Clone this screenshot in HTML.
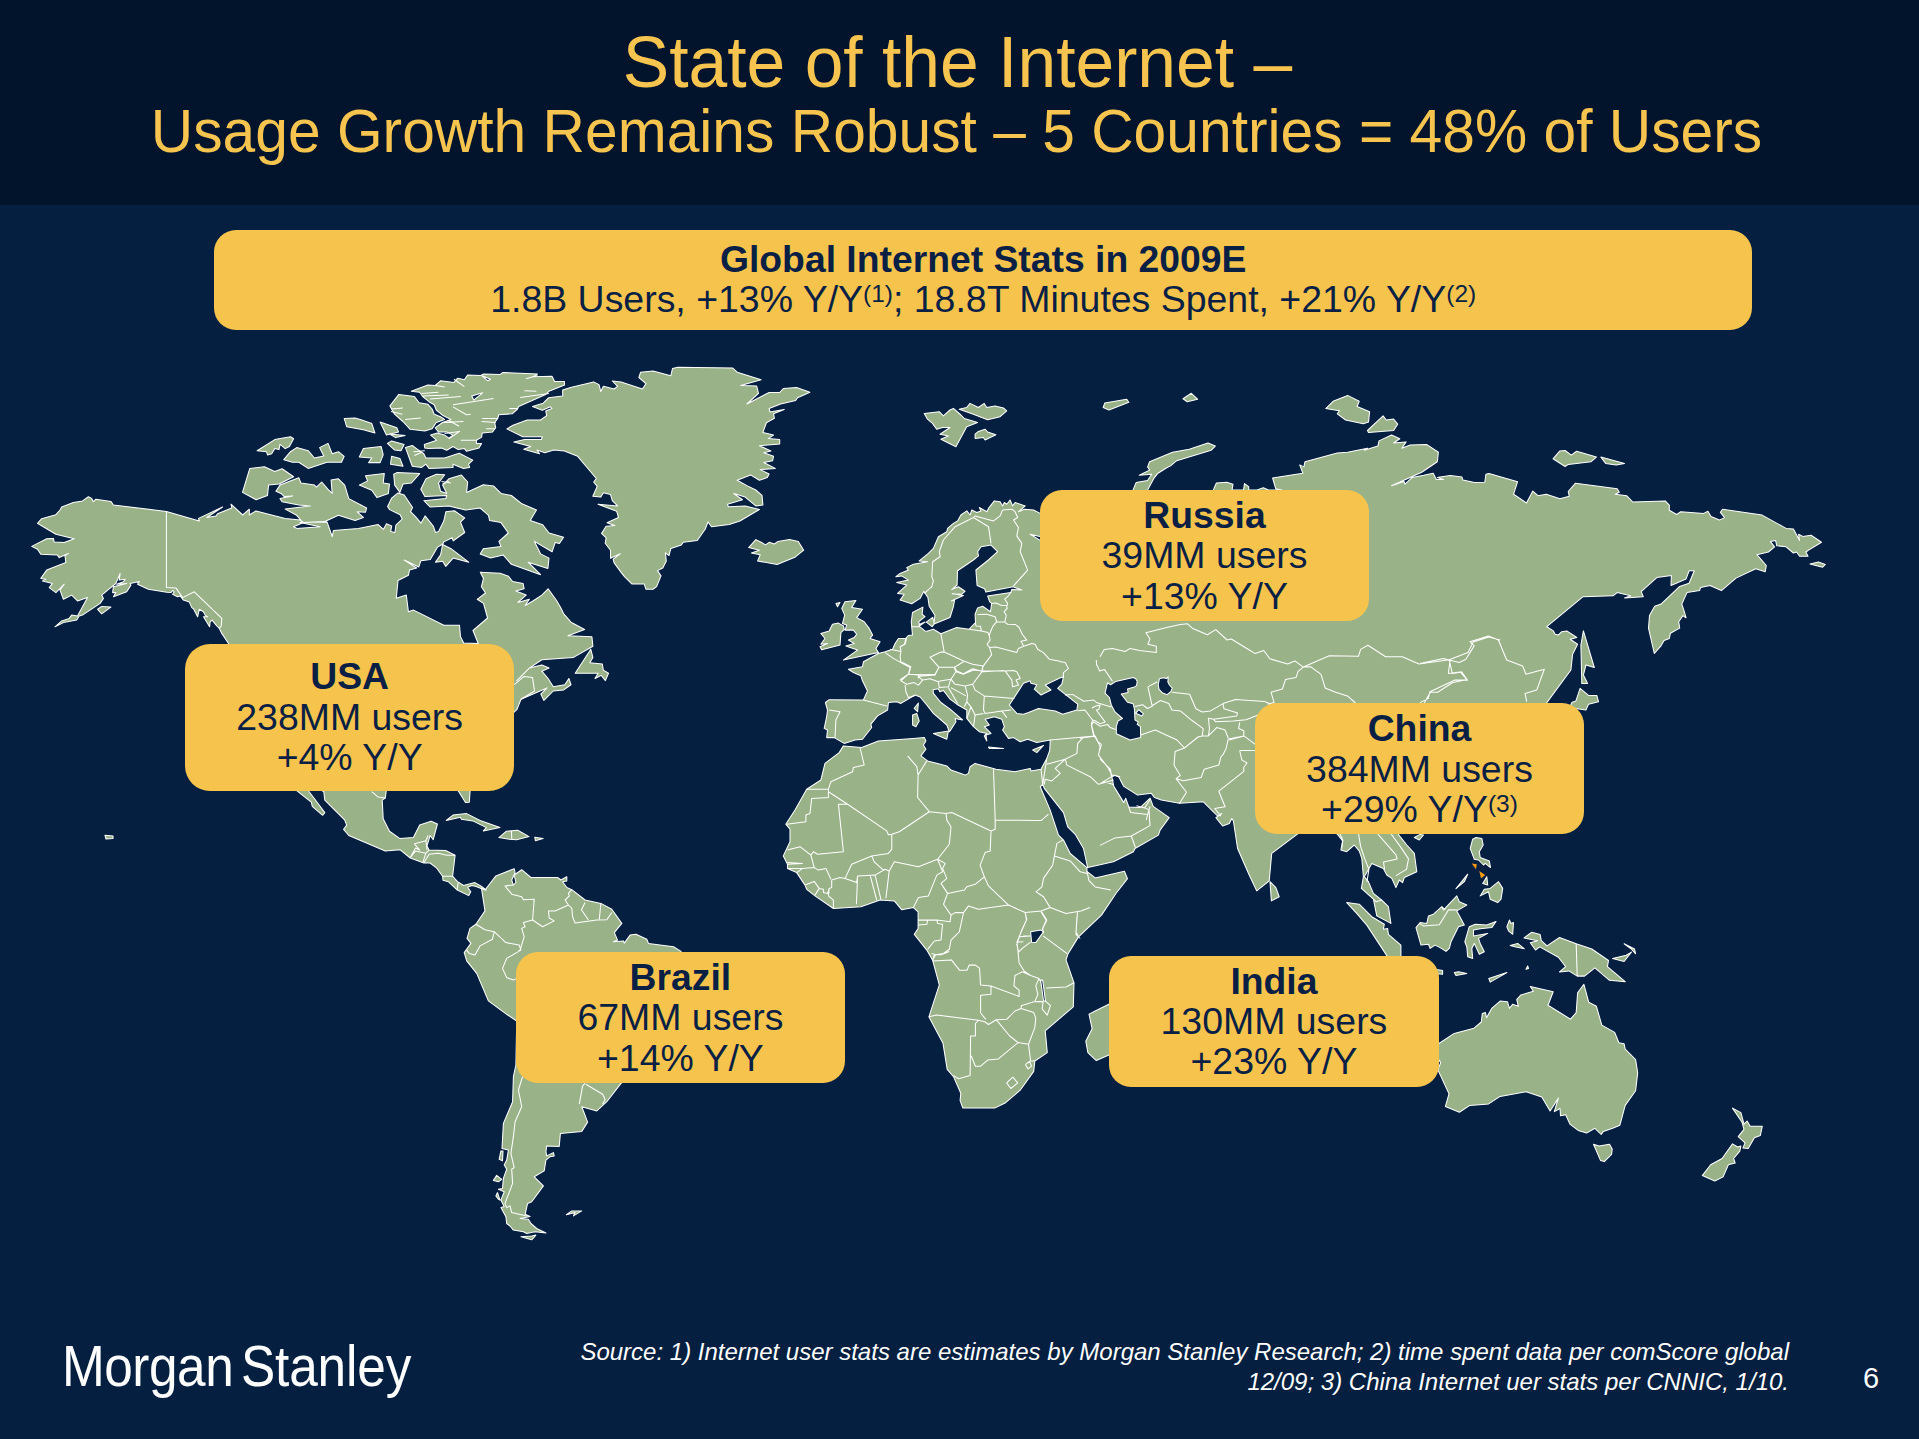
<!DOCTYPE html>
<html>
<head>
<meta charset="utf-8">
<title>State of the Internet</title>
<style>
html,body{margin:0;padding:0;}
body{width:1919px;height:1439px;overflow:hidden;background:#051f41;font-family:"Liberation Sans",sans-serif;position:relative;}
#hdr{position:absolute;left:0;top:0;width:1919px;height:205px;background:#01142b;}
.t1{position:absolute;left:0;width:1919px;text-align:center;color:#f6c44f;white-space:nowrap;}
#t1a{top:25px;font-size:69.6px;line-height:76px;left:-2px;transform-origin:50% 61px;transform:scaleY(1.045);}
#t1b{top:100.2px;font-size:58.75px;line-height:64px;left:-3px;transform-origin:50% 52.4px;transform:scaleY(1.03);}
.box{position:absolute;background:#f6c44d;border-radius:22px;color:#0a1f44;text-align:center;white-space:nowrap;}
.box b{display:block;font-size:37.3px;line-height:40.4px;}
.box span{display:block;font-size:37.45px;line-height:40.4px;}
.box sup{font-size:24.5px;vertical-align:baseline;position:relative;top:-10.2px;line-height:0;}
#gbox{left:214.2px;top:230px;width:1538px;height:99.5px;border-radius:22px;}
#gbox b{padding-top:9px;}
.cb{width:329px;height:131px;}
.cb b{padding-top:5px;}
#map{position:absolute;left:0;top:0;}
#logo{position:absolute;left:62.2px;top:1333.5px;color:#fff;font-size:57px;line-height:64px;white-space:nowrap;transform-origin:0 0;transform:scaleX(0.90);letter-spacing:-0.5px;}
#src{position:absolute;right:130px;top:1337px;width:1300px;text-align:right;color:#fff;font-style:italic;font-size:24px;line-height:29.5px;white-space:nowrap;}
#pg{position:absolute;left:1863px;top:1362.6px;color:#fff;font-size:29px;line-height:30px;}
</style>
</head>
<body>
<div id="hdr"></div>
<div class="t1" id="t1a">State of the Internet –</div>
<div class="t1" id="t1b">Usage Growth Remains Robust – 5 Countries = 48% of Users</div>

<svg id="map" width="1919" height="1439" viewBox="0 0 1919 1439">
<g id="land" fill="#99b288" stroke="#ffffff" stroke-width="1.05" stroke-linejoin="round">
<path d="M166.4,511.4 113.4,505 110.9,501.4 95.9,499.2 93.4,501.7 91.7,498.4 88.4,496.7 82.5,500.9 73.4,502.5 61.7,507 60,510 55.9,514.7 41.7,518.7 37.5,523.4 43.3,526.7 55.9,534.2 74.2,538.7 64.2,542.6 54.2,542.1 53.4,538.4 46.7,538.7 31.7,546.4 37.5,549.2 40.8,554.2 57.5,555.1 59.2,557.6 68.4,553.4 65,555.9 65.9,562.6 46.7,570.1 40.8,578.4 45.9,579.2 42.5,580.9 52.5,583.4 49.2,587.6 55.9,592.6 64.2,584.2 60,590.1 63.4,599.3 71.7,595.1 77.5,600.9 87.5,597.6 77.5,615.9 71.7,615.1 69.2,618.4 61.7,620.9 55,626.8 63.4,622.6 76.7,620.1 79.2,615.9 82.5,615.1 100.1,603.4 103.4,598.4 101.7,595.1 115.9,583.4 120.1,573.4 119.2,580.1 125.1,579.2 123.4,581.7 116.7,584.2 126.7,583.4 113.4,586.7 112.6,592.6 115.9,592.6 113.4,596.8 126.7,591.8 130.9,585.1 130.1,583.4 139.2,581.4 137.6,584.2 148.4,589.2 166.8,592.3 170.9,592.6 172.9,590.4 174.3,591.8 172.6,594.3 177.6,596.8 180.1,595.9 182.1,598.4 183.4,600.1 189.3,602.1 191.8,607.6 193.5,608.8 197.6,616.8 199.3,609.3 203.5,611.8 205.1,615.1 207.6,616.8 203.5,616.8 209.6,626.8 210.1,621.8 212.1,620.1 216.8,625.9 219.3,628.4 221.8,633.4 228.5,643.5 292.5,762.5 311.3,783.4 323.8,791.7 324.8,800.1 344.6,819.9 346.7,825.1 343.6,829.3 348.8,835.5 385.3,851.1 399.9,849.7 410.3,858 423.8,863 430.1,863 436.4,867.8 442.6,876.2 443,880.3 448.5,881.8 456.8,889.7 468.7,895.6 470.8,891.8 467.6,887.2 471.8,885.5 476,886.6 481.8,888.7 486.4,890.1 481.2,886.2 474.9,882.6 463.5,885.5 457.2,881.4 452.6,876.2 455.1,855.3 445.7,850.5 429.1,850.1 427,845.9 430.1,835.5 433.2,839.7 437.4,824 431.1,821.3 419.7,825.1 413.4,837.6 399.9,838.6 389.5,831.3 383.2,818.8 382.2,800.1 385.3,798 386.3,790.7 405.1,779.2 458.2,790.7 465.5,802.6 469.3,802.2 470.1,790.7 467.6,762.5 514.3,711.8 516.8,709.7 521,699.3 537.7,692 547,687.9 540.8,694.1 543.9,700.4 553.3,691 563.7,689.9 571,684.7 568.9,678.5 564.8,684.7 553.3,686.8 548.1,678.5 541.8,671.2 549.1,668.1 541.8,664.9 529.3,668.1 523.1,674.3 516.8,680.6 529.3,668.1 541.8,659.7 573.1,657.6 592.9,646.2 591.9,636.8 567.9,635.7 584.6,629.5 571,622.2 563.7,613.8 560.6,607.6 556.4,600.3 548.1,588.8 541.8,595.1 535.6,599.3 532.5,601.3 525.2,605.5 529.3,599.3 517.9,602.4 526.2,595.1 515.8,590.9 524.1,588.8 523.1,583.6 512.6,581.5 508.5,576.3 500.1,573.2 480.3,572.2 483.5,578.4 481.4,586.7 485.5,593 477.2,599.3 483.5,603.4 487.6,618 473,630.5 478.2,643.5 463.7,643 460.5,636.8 459.5,625.3 443.8,625.3 413.6,610.1 408.4,611.8 406.3,595.1 396.3,598.2 398,580.5 408.4,575.3 409.5,570.1 416.7,568 404.2,560.1 418.8,566.9 420.9,560.7 430.3,559.6 437.6,547.1 442.8,544 443.8,541.9 452.2,537.8 453.2,540.9 464.7,532.5 460.5,522.1 464.7,517.9 454.3,510.7 445.9,511.7 443.8,521.1 438.6,531.5 435.5,532.5 433.4,526.3 425.1,515.9 420.9,523.2 415.7,516.9 410.5,511.7 412.6,507.5 404.2,495 398,492.9 391.7,498.1 387.6,506.5 389.6,509.6 400.1,514.8 402.2,519 395.9,525.2 394.9,532.5 390.7,531.5 391.7,525.9 386.5,523.8 383.4,529.4 378.2,524.6 358.4,528.4 333.4,530.5 332.3,536.7 327.1,522.1 300,522.5 320.2,526.7 296.9,528.4 293.5,526.7 303.5,522.5 300.2,520 285.2,518.4 256,510.9 249.3,515 249.3,509.2 242.7,515 231,504.2 231.8,508 217.6,513.7 216,515.9 206.8,517.5 222.6,507 198.5,518.4 199.3,520.9Z M296.7,790.7 311.3,802.2 312.3,806.3 322.7,815.3 324.8,812.6 318.6,804.2 309.2,791.7 300.8,779.2Z M446.2,820.5 453,815.1 466.6,813.6 480.1,820.5 499.9,827.6 483.3,830.9 486.4,827.6 472.8,820.9 461.4,819.2 460.3,817.2Z M498.9,837.6 506.2,831.3 517.7,830.3 529.1,836.6 516.6,839.7 509.3,839.3Z M534.8,837.2 543.1,838.6 535.4,840.7Z M242.5,492.4 249.8,468.4 264.4,466.7 274.8,471.5 282.1,468.8 293.6,476.7 279,484 268.6,485.1 267.5,495.5 256.1,499.7Z M275.9,491.3 280,485.1 298.8,477.8 300.9,483 314.4,485.1 316.5,487.2 321.7,482 328,489.3 332.2,493.4 331.1,479.9 338.4,478.8 344.7,485.1 348.8,498.6 366.6,508 365.5,512.2 357.2,511.8 363.4,517.4 355.1,520.5 338.4,515.3 324.9,521.6 303,522.6 296.7,515.3 285.2,509.1 310.3,505.9 298.8,504.9 282.1,501.8 280,498.6 292.5,495.9 284.2,496.6 281.1,493.4Z M257.1,450.7 274.8,439.6 290.5,436.7 293.6,438.8 289.4,446.5 285.2,448.6 280,444.4 279,449.6 274.8,448.6 271.7,453.8 267.5,454.9 266.5,451.7Z M283.8,459.7 290.5,451.7 296.7,447.6 308.2,450.7 314.4,458 323.8,455.9 319.6,447.6 328,443.4 332.2,453.8 338.4,451.7 344.2,456.3 341.5,462.2 326.9,462.2 308.2,468.4 298.8,462.2 292.5,462.2Z M344.2,418.4 355.1,418 360.3,419.4 371.8,423.6 374.9,433 363.4,429.8 346.7,426.7Z M380.1,422.1 396.8,427.8 398.5,431.9 386.4,435.1Z M389.5,434 405.1,435.5 395.7,437.6Z M387.4,443.4 391.6,440.9 404.1,444.4 401,450.7 394.7,450.1Z M359.3,456.9 363.4,448.6 381.1,446.5 383.2,454.9 380.1,462.6 368.6,462.6 371.8,458Z M391.6,456.3 399.9,458.4 403,466.3 390.5,464.2Z M359.3,485.1 367.6,480.9 365.5,475.7 384.3,473.6 383.2,483 389.5,484 388.4,493.4 377,497.6 371.8,490.3Z M393.7,474.2 396.8,472.6 419.7,473.6 411.4,483 403,484 399.9,492.4 394.7,485.1Z M405.5,447.6 412.3,445.5 416.5,448.6 423.8,453.8 425.9,458 444.6,458 459.2,453.3 472.8,460.1 468.6,464.2 469.6,467.4 463.4,468.4 453,464.2 453,467.4 429,468.4 425.9,464.2 421.7,467.4 412.3,466.3Z M389.9,405.9 395.6,398.6 398.8,394.4 414.4,396.5 419.1,402.7 427.9,404.3 432.1,409 434.2,414.2 440.5,416.8 444.6,419.4 436.3,422.5 432.1,428.8 424.8,430.9 410.2,429.3 402.9,421.5 394.6,414.2Z M411.3,391.3 427.9,385 435.2,385.5 440.5,380.8 454,382.4 457.7,378.2 464.4,379.8 467.6,375.1 480.1,375.6 483.2,374.1 499.9,374.6 503,372.5 537.4,374.1 533.2,376.7 552,376.2 554.6,381.4 564.5,381.4 564.5,385 548.9,391.3 545.7,394.4 518.6,406.4 517.6,409 512.4,413.7 498.8,414.7 497.8,418.4 494.7,422.5 495.7,427.8 492.6,431.9 482.2,433 481.6,437.1 476.4,440.3 476.4,443.4 481.6,443.4 479,448.1 466.5,451.2 464.4,448.6 458.2,449.6 453,446.5 446.7,450.2 441.5,448.1 428.5,448.6 424.8,448.1 424.3,444.4 436.8,440.3 430.6,435.1 437.3,433 444.6,435.1 448.8,438.2 453,435.1 446.7,431.9 438.4,431.9 435.2,427.8 442.5,422.5 450.9,419.4 442.5,415.2 436.3,410 434.2,404.8 429,401.7 422.7,396.5 419.6,392.3Z M420.8,489.3 426,478.8 436.4,474.2 444.7,474.7 438.5,483 440.6,491.3 446.8,493.4 442.6,485.1 448.9,478.8 461.4,475.1 467.7,482 466.6,492.4 483.3,484.7 493.7,486.1 501,493.4 511.4,495.5 521.9,503.8 536.5,510.1 530.2,520.5 542.7,524.7 549,533 563.6,537.2 559.4,543.5 555.2,542.4 552.1,551.8 534.4,541.4 540.6,553.9 549,558.1 547.9,568.5 528.1,562.2 540.6,574.7 511.4,564.3 503.1,554.9 490.6,558.1 480.2,553.9 483.3,548.7 501,546.6 498.9,541.4 508.3,533 501,522.6 489.6,520.5 488.5,515.3 480.2,508 465.6,510.1 448.9,505.9 430.1,507 423.9,500.7 445.8,498.6 446.8,495.5 424.9,496.6Z M435.4,562.2 440.6,554.9 442.6,544.5 451,548.7 468.7,562.2 453.1,558.1 445.8,566.4 442.6,561.2Z M562.7,389.9 571.5,387.2 593.7,381.9 599,384.6 600.8,391.6 603.4,386.3 614,389 617.6,386.3 612.3,381 621.1,381.9 642.4,389 645.9,383.7 638.9,377.5 640.6,372.2 653,370.9 670.8,375.7 672.5,368.6 677.8,367.2 732.8,368.1 737.2,372.2 745.2,374.8 761.1,379.8 740.7,385.4 756.7,386 758.5,393.4 746.9,404 769.1,392.5 779.7,392.5 783.3,388.6 796.6,387.6 809.9,392.2 797.5,397.8 795.7,400.5 780.6,404 769.1,408.5 770,412 784.2,409.4 773.5,413.8 774.4,418.2 766.4,422.7 762.9,432.4 773.5,435.1 768.2,438.6 779.7,439.5 779.7,443.9 759.4,445.7 770.9,451 763.8,452.8 773.5,456.3 772.6,460.8 763.8,462.5 775.3,468.4 760.2,469.6 769.1,474 767.3,477.6 759.4,480.2 750.5,474.9 737.2,480.2 746.9,485.6 755.8,490 762,495.3 762.9,505.1 755.8,505.9 745.2,497.1 733.7,493.5 742.5,499.7 727.5,504.2 728.3,506.8 745.2,505.9 759.4,509.5 739.9,521 729.2,524.5 711.5,526.7 708,521.9 705.3,529 697.3,540.5 683.2,542.3 681.4,544.9 670.8,548.5 669,555.6 665.4,552.9 666.3,560.9 662.8,568 657.5,570.6 661,575.9 656.6,586.6 653,589.2 645.9,589.2 644.2,583.9 631.8,583.9 624.7,576.8 621.1,572.4 614,562.6 613.2,559.1 620.2,553.8 610.5,558.2 610.5,550.2 605.2,543.2 606.1,537.8 601.6,533.4 606.1,526.3 614.9,525.4 607,522.8 618.5,517.5 616.7,511.3 598.1,504.2 617.6,505.9 612.3,500.6 610.5,494.4 603.4,492.7 600.8,497.1 592.8,496.2 597.2,486.4 593.7,482 596.3,478.5 586.6,467 577.7,456.3 564.4,451 553.8,450.1 544.9,452.8 537,450.1 539.6,453.7 523.7,449.2 530.8,446.6 513.9,442.1 524.6,439.5 541.4,439.5 542.3,436.8 522.8,436.8 506.8,428.9 513,425.3 527.2,420 540.5,420 546.7,415.6 545.8,411.1 552,408.5 550.3,406.7 542.3,410.3 532.5,406.4 543.2,403.2 548.5,397.8 562.7,396.1Z M748.7,547.6 755.8,539.6 761.1,542.3 765.6,544.9 769.1,542.3 774.4,544 778,541.4 789.5,539.6 798.3,541.4 803.7,550.2 794.8,557.3 777.1,564.4 766.4,562.6 757.6,560.9 760.2,554.7 751.4,552.9 759.4,550.2Z M485,890 495.9,875.9 514.2,868.7 515.1,872.5 511.7,880 513.4,885 515.9,882.5 514.2,875 521.7,869.7 530.9,877.5 557.6,877.5 560.9,880 566.8,876.7 566.8,880.9 562.6,881.7 566.8,887.5 571.8,889.7 585.1,900 600.9,903.4 611.8,909.2 621.8,923.4 614.3,932.6 617.6,940.1 613.5,941.7 623.5,940.9 624.3,943.1 630.1,935.1 636,934.2 646.8,939.2 648.5,943.4 673.5,946.7 681,951.4 697.2,985.1 660.2,1060.1 621,1083.4 606.8,1101.7 596.8,1110.9 581.8,1106.7 587.6,1122.1 581.8,1131.4 560.4,1133.4 559.2,1146.4 546.7,1145.9 545.9,1151.7 546.7,1155.9 553.4,1152.6 554.2,1155.9 550.1,1156.7 545.9,1160.1 544.2,1170.9 534.2,1176.8 543.4,1185.9 531.7,1201.8 527.6,1203.4 525.1,1214.3 530.1,1216.4 520.1,1218.5 528.4,1219.3 530.9,1223.5 536.7,1228.5 545.9,1233 535.1,1231.8 526.7,1233.5 523.4,1231.8 513.4,1230.1 510,1226 506.7,1223.5 505.9,1216.8 500.9,1207.6 504.2,1206.8 500.9,1200.1 504.2,1191.8 498.4,1189.3 502.5,1188.4 503.4,1178.4 506.7,1169.2 504.2,1165.1 506.7,1160.1 508.4,1150.1 502,1148.4 503.4,1123.4 512.6,1101.7 513.4,1076.7 515.9,1065 516.7,1021 506.7,1014.3 488.4,1000.9 476.7,973.4 466.7,960.9 464.2,952.6 470.9,943.4 467,938.4 470,928.4 475.9,924.2 485,910.9 481.4,888Z M500.9,1150.9 503,1150.9 502.5,1160.9 499.2,1159.2Z M493.4,1180.4 496.7,1175.4 501.7,1179.3 498.4,1181.8Z M495.9,1195.9 497.5,1192.6 500,1200.1 498.4,1199.3Z M520.9,1236.8 531.7,1236 535.9,1235.1 531.7,1239.8Z M566.4,1214.8 571.8,1210.9 581.8,1210.9 573.4,1215.9 575.1,1212.6Z M1040.2,513.4 1033.5,510 1024.3,509.2 1018.5,511.7 1025.2,505.9 1015.1,502.5 1012.6,505.9 1010.1,500 1006.8,504.2 1004.3,502.5 1002.6,505.9 1000.1,501.7 994.3,500.9 988.5,508.4 986.8,511.7 979.3,507.5 981,510.9 976.8,512.5 971.8,510 970.1,515 966.8,510.9 960.9,515 957.6,520.9 953.4,523.4 947.6,528.4 946.8,531.7 938.4,536.7 933.4,548.4 928.4,553.4 919.2,560.9 927.6,561.7 913.4,564.2 906.7,567.6 908.4,570.1 900.1,573.4 895.9,576.7 901.7,575.9 908.4,580.1 896.7,582.6 906.7,585.1 897.6,593.4 904.2,594.3 900.1,600.1 911.7,603.8 920.1,598.4 923.8,591.3 927.9,597.5 929.2,606.3 934.9,615.2 934,624 950,617.5 953.4,606.7 954.6,600 951.3,600.9 963.4,595.4 952.1,593.8 961.7,594.2 965,591.3 958.4,586.7 951.7,589.6 957.1,585 957.5,570.8 973.4,560 978.5,555.9 977.6,551.7 981,546.7 991,545.1 997.6,551.7 988.4,560 975.9,570 977.1,585.4 984.6,588.8 985.9,592.1 1013,586.7 1021.8,590 1011.7,589.6 1010.9,592.5 987.6,595.9 989.6,601.7 991.7,603.4 990.5,611.7 982.6,606.3 977.6,607.9 975.1,614.2 975.5,622.5 969.2,629.2 956.7,627.5 940.9,633.8 933.4,629.2 926.7,631.3 925,630.9 919.6,626.7 919.2,624.6 925,622.1 919.6,625.9 918.8,621.7 925,616.7 922.1,614.2 922.9,607.1 912.5,612.5 911.3,621.7 911.7,626.7 912.5,635.1 908.3,635.5 905.8,638.4 900,638.4 898.4,638.5 895.1,643.5 892.6,649.3 885.1,651.8 878.4,653.5 863.4,661.8 862.5,666.8 848.4,669.3 853.4,672.5 860.9,675.8 862.5,680.8 867.5,690.9 863.4,700 829.2,699.7 825.4,702.5 827.5,710 826.7,716.7 824.2,728.4 827.5,730 826.7,737.6 834.2,737.6 844.2,743.4 855,740.1 862.5,739.2 871.7,727.5 870.9,724.2 877.6,715.9 887.6,710 888.4,702.5 896.7,701.7 900.9,703.4 915.1,695 920.1,697 926.8,705 933.4,713.4 946.8,725 949.3,731.7 950.1,730.9 955.9,721.7 955.1,718.4 962.6,720 950.1,709.2 940.9,702.5 933.4,693.4 933.1,689.7 938.4,688.7 939.8,691.7 943.4,690.4 950.1,699.2 956.8,704.2 966.8,710 966.8,718.4 973.5,726.7 979.3,731.7 986.8,733.4 984.3,735.9 986.8,740.9 986,735.1 991,733.4 984.3,726.7 989.3,725 985.1,719.2 994.3,716.7 1001.8,719.2 1004.3,726.7 1002.6,730 1008.5,738.4 1013.5,737.6 1020.2,741.7 1027.7,739.2 1036.8,742.6 1050.2,740.1 1049.8,750.1 1046.8,758.4 1041,769.2 1042.7,784.3 1044.3,788.4 1063.5,812.6 1067.7,826.8 1075.2,834.3 1083.5,848.5 1087.7,867.6 1113.4,861.8 1133.4,851.8 1135,848.5 1158.4,835.1 1160.1,830.1 1169.2,817.6 1153.2,806.4 1150.1,798.2 1140.1,807.6 1128.8,807 1125.7,798.2 1123.8,802.6 1113.8,786.4 1111.9,777 1115.1,775.1 1118.8,777 1123.8,786.4 1137.6,795.1 1151.3,793.2 1154.5,797.6 1161.3,800.1 1179.5,803.2 1203.4,801.8 1213.4,811.8 1217.6,816 1221.8,813.5 1215.9,817.6 1222.6,826 1229.3,823.5 1231.8,818.5 1233.4,821 1237.6,848.5 1249.2,875 1256.7,890.9 1269.2,880.9 1271.7,853.4 1296.7,834.7 1316.7,820 1337.6,834.4 1342.6,840.9 1340.9,850 1346.7,851.7 1354.2,845 1359.2,850.9 1361.8,858.4 1363.4,876.7 1361.4,888.4 1373.4,899.2 1376.8,915.9 1390.9,923.4 1388.4,906.7 1381.8,900.1 1373.4,893.4 1368.4,881.7 1364.3,876.7 1371.8,863.4 1383.4,868.4 1386.8,875 1391.8,878.4 1395.9,887.6 1399.3,880 1402.6,882.6 1404.3,877.5 1416.8,871.7 1414.3,853.4 1406.8,845 1400.1,836.7 1398.4,834.4 1420.1,800 1540.2,736.6 1546.8,702.6 1570.9,670 1572.6,654.2 1577.6,644.2 1570.1,639.2 1576.8,637.5 1566.8,630.9 1561.8,631.7 1558.4,635 1555.1,634.2 1553.4,630.9 1546.8,626.7 1582.8,596.8 1613,595.8 1617.2,592.6 1630.8,595.8 1624.5,597.9 1643.3,596.8 1641.2,591.6 1656.8,577.6 1671.4,575.6 1671,585.4 1686,579.1 1689.1,570.8 1694.3,570.8 1689.1,583.3 1679.7,586.4 1661,604.1 1654.7,606.2 1649.5,615.6 1648.5,628.1 1654.3,653.5 1661,645.8 1664.1,640.6 1669.3,638.5 1670.4,633.3 1679.7,628.1 1678.7,621.8 1682.9,615.6 1686,617.7 1683.9,610.4 1681.8,604.1 1687,592.6 1699.6,590.6 1700.6,587.4 1710,585.4 1721.4,590.6 1736,578.1 1755.8,568.7 1765.2,571.8 1766.3,565.5 1756.9,554.7 1768.4,552 1774.6,546.8 1770.4,541.6 1775.6,540.5 1776.7,545.7 1786.1,546.8 1793.4,553 1796.5,552 1799.6,556.2 1808,556.2 1805.9,552 1809,549.9 1821.5,542.2 1811.1,535.3 1802.8,536.4 1798.6,534.3 1799.6,540.5 1793.4,529.1 1786.1,528.4 1762.1,515.1 1722.5,509.3 1720.4,512.4 1724.6,517.6 1719.4,520.1 1711,516.6 1707.9,511.3 1703.7,513.4 1680.8,511.8 1676.6,514.5 1669.3,510.3 1669.3,505.1 1665.2,500.9 1632.8,502 1626.6,495.7 1615.1,494.2 1619.3,492.2 1617.2,488.8 1575.5,483.2 1568.2,491.5 1569.3,496.3 1559.9,498.8 1546.3,494.2 1538,495.7 1532.8,491.1 1526.5,503 1513.6,494.2 1517.6,481.7 1489,473.4 1485.9,474.2 1484.8,482.2 1474.4,482.6 1462.9,480.1 1461.9,476.9 1450.4,475.5 1440,476.9 1437.3,477.4 1443.6,479.5 1436.3,479.5 1433.2,473.2 1423.8,475.3 1412.3,477.4 1405,484.2 1404,481.5 1391.5,485.7 1421.7,472.2 1437.3,461.7 1438.4,452.3 1426.9,444.6 1410.2,445.1 1401.9,448.2 1406.1,441.9 1393.6,443 1399.8,438.8 1391.5,435 1379,440.9 1377.9,446.1 1364.4,450.3 1367.5,448.2 1347.7,452.3 1337.3,453 1305,461.7 1303.9,466.9 1299.7,464.9 1302.9,473.2 1272.6,478 1275.8,488.8 1282,490.1 1268.5,490.1 1263.3,487.8 1257,490.1 1248.7,490.1 1248.7,486.7 1244.5,483.6 1243.5,490.1 1232,490.1 1233,484.2 1226.8,482.2 1216.4,483 1213.2,490.1 1185.1,505.5 1080.8,515.9Z M1583.4,630.9 1594.3,667.5 1585.9,665 1583.4,675.1 1587.6,683.4 1581.8,683.4 1580.9,645Z M1580.1,688.4 1588.5,695.4 1596.8,695.4 1598.5,701.7 1588.5,704.2 1585.9,710.1 1575.9,708.4 1570.1,706.7 1571.8,702.6 1575.9,700.9Z M1553,458.8 1559.9,450.9 1565.1,450.5 1571.3,455.1 1576.6,451.3 1596.4,457.1 1591.1,461.7 1568.2,464.4 1565.1,466.5Z M1600.9,457.1 1624.5,463.4 1616.2,465.1 1605.7,463.4Z M1810,563.9 1818.4,562 1825.3,564.5 1822.6,567.2Z M1133,490.1 1136.1,482.6 1147.6,480.5 1151.7,474.2 1139.2,475.3 1149.6,470.1 1147.6,466.9 1149.6,461.7 1172.6,452.3 1189.3,449.2 1208,443 1215.3,446.1 1211.1,450.3 1176.7,460.7 1170.5,465.9 1166.3,468 1158,473.2 1153.8,478.4 1147.6,490.1 1143.4,499.3Z M1325.8,408.6 1333.1,401.3 1347.7,395.4 1359.2,401.3 1357.1,406.5 1369.6,411.7 1368.5,422.1 1363.3,423.8 1345.6,420 1337.3,413.8 1339.4,410.7Z M1367.5,430.5 1383.1,415.9 1386.3,420 1393.6,419 1397.7,424.2 1393.6,430.5 1368.5,432.5Z M1103.2,407.5 1104.8,402.9 1126.7,399.2 1128.8,402.3 1109,410Z M1183,398.8 1191.3,393.3 1197.6,399.2 1187.2,401.7Z M924.2,413.4 939.2,411.7 943.4,415.9 950,410 953.4,408.4 960.9,415 964.2,418.4 977.6,422.5 966.7,426.7 955.9,446.7 940.9,439.2 948.4,435.9 940,434.2 950,427.5 942.5,427.5 936.7,429.2 932.5,423.4 927.5,419.2Z M959.2,409.2 966.7,407.5 970,403.4 978.4,407.5 984.2,403.4 986.7,407.5 995.1,405.9 1003.4,408 1006.7,410.9 1000.1,416.7 987.6,419.7 973.4,414.2Z M975.1,434.2 978.4,431.4 985.1,429.2 987.6,432 995.9,434.7 985.1,440 983.4,437.5 975.1,438.4Z M841.7,608.4 845,601.8 855.9,600.4 851.7,607.6 862.5,609.3 856.7,617.6 864.2,621.8 869.2,628.4 872.6,635.1 870,638.5 880.1,641.8 875.9,648.5 878.4,652.6 843.4,660.1 857.5,650.1 845.9,646 854.2,643.5 848.4,640.1 854.2,637.6 856.7,634.3 853.4,630.1 845,630.1 846.7,625.1 842.5,623.4 844.7,615.1Z M820.8,633.4 829.2,630.9 832.5,624.3 838.4,623.1 843.4,625.9 844.2,629.3 840.9,632.6 840,645.1 821.7,649.8 820,646.8 827.5,643.5 820.8,644.3 825,638.5Z M835.9,603.4 840,602.6 837.5,606.8Z M926.3,622.1 932.7,617.4 934.4,623.8 932.1,626.7Z M1032.7,750.1 1043.5,745.4 1036.8,752.6Z M988.5,747.1 1003.5,748.4 989.3,748.4Z M933.4,733.4 948.4,730.9 946.8,739.2Z M912.6,715 916.7,713.4 919.2,720.9 915.9,726.7 912.6,725Z M914.2,708.4 918.4,703 917.6,711.7Z M1041,769.2 1031,770.9 1030.2,768.4 1015.1,771.7 996,769.2 975.1,763.4 970.1,766.7 968.5,773.4 965.1,775.1 950.9,770.1 946.8,765.9 927.6,760.9 920.9,755.9 925.9,749.2 923.4,745.1 925.9,740.9 924.3,737.6 913.4,738.4 878.4,740.9 861.7,747.6 843.4,745.9 839.2,752.6 825,763.3 820.9,780 806.7,789.2 795,810 785.8,824.2 790,829.2 790,841.7 783.3,855.9 787.5,864.3 787.5,868.4 796.7,872.6 805,885.1 806.7,889.3 815,895.9 833.4,908.5 860.9,906.8 880.1,900.1 894.3,900.9 901.8,909.8 913.4,907.6 918.1,911.8 918.1,928.5 914.3,934.3 926.8,950.1 932.6,960.2 939.3,984.9 928.9,1016.8 943,1043.3 947.2,1069.3 953.5,1076.6 960.8,1093.3 960.1,1100.6 962.8,1107.9 995.2,1107.9 1005.6,1102.7 1020.2,1090.2 1033.7,1071.4 1034.8,1061 1047.3,1052.6 1045.2,1030.8 1073.3,1006.8 1074,982.8 1066,959.9 1068.1,953.6 1078.5,936.9 1101.5,915.1 1116.1,893.2 1127.5,878.6 1124.4,871.3 1095.2,877.9 1086.9,871.3 1086.9,867.6 1070.2,853.5 1063.5,840.1 1058.5,835.1 1050.2,810.1 1040.2,786.8 1042.7,784.3Z M1089,1014.1 1095.2,1011 1109.8,1003.7 1124.4,1006.8 1124.4,1048.5 1109.4,1054.7 1096.3,1060.6 1087.9,1052.6 1085.8,1041.2 1092.1,1028.7Z M1438.6,1043.8 1454.2,1033.4 1474,1028.2 1481.3,1022 1482.3,1013.6 1485.5,1012.6 1486.5,1017.8 1491.7,1008.4 1500.1,1001.1 1507.4,1001.7 1509.5,1008.4 1512.6,1004.2 1518.4,1006.3 1516.7,999.7 1520.9,994.9 1533.4,991.3 1530.3,986.5 1553.2,991.7 1548,1005.3 1570.5,1019.2 1576.2,1012.6 1577.6,992.8 1583.9,984.4 1588.7,1002.2 1596.4,1006.3 1601.8,1025.1 1614.7,1032.4 1618.9,1042.8 1624.1,1043.8 1625.2,1049.1 1635.6,1059.5 1637.7,1073 1635.6,1090.8 1625.2,1105.4 1619.9,1125.2 1612.6,1128.3 1603.3,1131.4 1601.2,1134.5 1594.9,1128.3 1586.6,1133.1 1578.2,1130.4 1569.9,1124.1 1565.7,1114.7 1560.5,1115.8 1560.1,1108.5 1554.3,1111.6 1558.4,1098.1 1550.1,1111 1541.8,1097 1526.1,1091.8 1500.1,1096.4 1488.6,1103.9 1469.8,1105.4 1459.4,1112.2 1445.4,1106.4 1449,1093.9 1437.9,1069.9 1440.7,1062.6 1437.9,1058.4Z M1593.5,1144.3 1599.1,1146 1609.5,1144.3 1612.2,1149.1 1611.6,1154.3 1604.3,1161.6 1600.6,1160.6Z M1524,937.9 1531.8,932.3 1540.1,934.4 1541.3,940.7 1547,945.9 1559.5,937.5 1576.2,943.8 1591.8,949 1608.5,960.5 1607.4,966.7 1625.2,981.7 1609.5,980.3 1594.9,967.8 1584.5,976.1 1577.2,976.1 1568.9,970.9 1559.5,971.9 1565.7,966.7 1558.4,957.3 1539.7,946.9 1535.5,950 1530.3,942.7 1537.6,940.7Z M1612.6,958.4 1626.2,955.2 1631.4,952.1 1624.1,961.5Z M1624.1,943.8 1634.5,949 1635.6,953.8 1631.4,949Z M1732.5,1108.1 1740.9,1112.6 1744,1124.1 1747.1,1121 1750.2,1126.2 1762.3,1126.2 1760.3,1135.6 1754.4,1137.7 1748.2,1148.5 1742.9,1148.1 1745,1142.9 1738.2,1136.6 1744,1129.3 1741.9,1122Z M1702.3,1175.6 1710.6,1164.8 1722.1,1158.5 1732.5,1143.9 1737.7,1147 1740.9,1146 1739.8,1151.2 1733.6,1158.5 1735.2,1163.1 1728.4,1164.8 1723.1,1176.9 1714.8,1181Z M1270,881.7 1275.9,887.6 1279.2,896.7 1271.4,900.9Z M1414.3,837.5 1420.1,834.4 1423.5,835 1419.3,840Z M1346.7,902.6 1359.2,904.2 1371.8,916.7 1384.3,924.2 1383.4,929.2 1387.6,928.4 1388.4,934.3 1400.9,945.1 1400.9,956.8 1406.8,968.4 1396.8,970.1 1386.8,955.6 1366.8,925.1 1356.7,913.4Z M1406.8,966.8 1423.5,967.6 1442.6,970.4 1442.6,974.3 1423.5,972.6 1406.8,970.1Z M1416,927.6 1420.1,922.6 1426.8,923.4 1428.5,915.9 1433.5,914.2 1441.8,906.7 1444.3,909.2 1456.8,895.9 1459.3,901.7 1466.8,905.1 1456.8,910.9 1464.3,925.1 1458.5,926.7 1451,941.8 1449.3,948.4 1446,951.4 1440.1,947.6 1435.1,945.1 1430.1,948.4 1428.5,944.3 1421,945.1Z M1469.3,926.7 1475.2,924.2 1486.8,925.1 1496,921.4 1491.8,927.6 1480.2,928.7 1473.5,930.1 1473.5,935.9 1487.7,933.4 1478.5,938.4 1480.2,943.4 1484.3,951.8 1479.3,954.3 1474.3,943.4 1471.8,948.4 1472.7,958.4 1467.7,956.8 1466.8,946.8 1464.8,941.8Z M1470.2,848.4 1472.7,839.2 1476,837.5 1481.8,838.4 1483.2,845 1479.3,851.7 1480.2,857.5 1489.3,860.9 1490.5,867.5 1485.2,863.4 1483.5,865 1478.5,860 1474.3,859.2Z M1480.2,895.9 1484.3,889.2 1490.2,888.4 1498.5,881.7 1502.7,888.4 1501,899.2 1497.7,902.6 1490.2,899.2 1488.5,891.7Z M1456,888.7 1467.7,874.2 1464.3,881.7Z M1482.7,883.4 1486.8,876.7 1487.7,885.1Z M1506.9,926.7 1509.4,920.1 1511,923.4 1513.5,922.6 1512.7,934.3 1508.5,930.9Z M1510.2,945.4 1517.7,943.4 1524.4,948.8 1516,947.1Z M1454.3,972.6 1458.5,971.8 1466.8,973.4 1456,975.4Z M1488.8,978.5 1506.9,972.6 1490.2,982.1Z M1526,969.3 1527.7,965.9 1528.5,968.4Z M575.2,673.3 590.8,649.3 592.9,657.6 589.8,662.8 602.3,663.9 603.3,670.1 608.5,673.3 605.4,680.6 601.3,675.4 595,678.5 598.1,673.3Z M105,835.3 113,836 113,838.5 106,839Z M97.6,609.3 101.7,606.4 110.9,607.1 101.7,613.8Z"/>
<path fill="#051f41" d="M1016.8,713.4 1009.3,705 1023.5,683.3 1030.2,680.8 1031,683.3 1036.8,684.7 1034.3,689.2 1041,695 1051,690 1045.2,685 1059.3,678.3 1063.5,676.7 1061.8,684.2 1057.7,688.4 1077.7,704.2 1076.9,710 1062.7,714.2 1055.2,710.9 1038.5,708.4 1028.5,712.5 1023.5,714.2Z M1105,693.1 1107.5,682.8 1110.6,684.7 1115.6,681.6 1133.2,677.5 1135.7,678.8 1137.2,681.3 1136.6,685.6 1134.4,686.9 1127.5,689.1 1128.2,692.5 1121.3,694.1 1127.5,702.2 1133.2,703.8 1134.4,708.8 1135,720 1138.2,721.9 1137.2,724.4 1140.4,726.6 1140.7,737.6 1130,740.1 1116.3,733.8 1116.3,726.3 1118.2,720.7 1122.5,718.5 1115,711.9 1111.3,705 1109.4,697.5Z M1135.7,713.2 1138.8,709.7 1143.5,713.8 1141.9,716Z M1158.2,685 1159.4,678.8 1163.2,677.8 1166.3,678.5 1168.2,676.9 1167.9,681.9 1169.4,685 1172.3,688.1 1171,691.3 1167.2,694.7 1162.6,693.1 1159.1,689.4Z M1030.2,534.2 1041,536.7 1041,540.9Z M1030.6,931.7 1041,930.1 1043.5,931.7 1035.8,942.6 1031.6,942.2Z M1040.6,980.1 1042.7,980.1 1045.6,1001.6 1043.5,1000.5Z M471.7,396 482.7,392.8 473.8,400.1Z M481.6,375.6 490.5,379.3 487.9,380.8Z"/>
<path fill="none" d="M166.4,511.4 166.4,587.6 175.9,587.9 182.6,597.6 194.3,591.8 221.8,618.4 221.3,625.9 219.3,628.4 M511.4,830.9 511.8,839.3 M513.4,885 505,885.9 511.7,894.2 521.7,896.7 523.4,899.7 534.2,899.2 532.6,920 523.4,922.6 525.1,926.7 521.7,928.4 524.2,936.7 520.1,950.1 518.4,950.9 M475.9,924.2 485,929.7 494.2,931.7 505.9,942.6 519.2,945.1 520.9,950.1 506.7,958.4 502.5,968.4 506.7,977.6 513.4,980.1 516.7,978.4 M494.2,931.7 492.5,939.2 480,945.9 475,955.1 469.2,953.4 466.7,950.1 M532.6,920 542.6,926.7 554.2,920.9 549.2,918 548.4,910.9 555.1,910.9 568.4,905 M571.8,889.7 568.4,893.4 569.3,895.9 565.1,900 568.4,905 571.8,908.4 572.6,916.7 575.1,923.1 596.8,920 606.8,919.7 611.8,912.5 M585.1,902.5 581.4,909.7 588.4,920 M600.9,903.4 599.3,919.2 M522.6,1076.7 518.4,1090 521.7,1106.7 515.1,1121.7 513.4,1136.7 510.9,1153.4 514.2,1167.6 511.7,1169.2 512.6,1183.4 505,1203.4 506.7,1207.6 510,1205.9 511.7,1212.6 526.7,1215.9 M585.1,1083.4 582.6,1085.9 579.3,1104.2 M585.9,1084.2 602.6,1094.2 605.1,1099.2 602.6,1104.2 M1576.2,943.8 1577.2,976.1 M860.1,748 864.2,765 853.4,767.5 852.6,771.7 830.9,781.7 828.4,789.2 828.4,797.5 811.7,798.4 810,813.4 805.9,815.1 805.9,821.7 786.7,824.2 M806.7,789.2 828.4,789.2 M828.4,791.7 847.6,804.2 886.7,830.9 888.4,834.7 891.8,834.2 899.3,831.7 929.3,811.7 946,813.4 951.8,812.6 991,830.9 995.2,829.2 995.2,820.1 993.5,769.2 M847.6,804.2 838.4,804.2 843.4,851.7 817.5,854.2 813.4,851.7 810.9,855.1 M907.6,755.8 916.8,766.7 918.1,775 917.6,797.5 929.3,811.7 M918.1,775 926.8,760.8 M995.2,820.1 1041,820.6 1048.5,814.2 M891.8,834.2 891.8,849.2 888.4,853.4 871.7,855.9 851.7,864.3 845.1,878.4 856.7,882.6 857.6,875.9 875.1,875.1 885.1,869.3 889.2,870.9 894.3,861.8 918.4,866.8 937.6,859.2 949.3,844.2 951,826.7 946.8,820.1 946,813.4 M871.7,855.9 874.2,861.8 883.4,870.1 885.1,869.3 M991,830.9 990.2,850.9 985.1,852.6 980.1,865.1 984.3,876.8 975.1,884.3 966.8,886.8 964.3,890.1 947.6,893.4 941,883.4 946.8,878.4 942.6,868.4 945.1,863.4 937.6,859.2 942.6,871.8 936.8,875.1 928.4,895.9 918.4,897.6 913.4,907.6 M889.2,870.9 885.9,898.4 M875.1,875.1 880.9,899.3 M870.1,875.1 876.7,900.1 M857.6,875.9 856.4,904.3 M833.4,908.5 833.4,900.1 828.4,895.9 829.2,888.4 831.7,887.6 831.7,880.1 840,877.6 845.1,878.4 M787.5,850.1 800,846.7 810.9,855.1 814.2,867.6 802.5,868.4 787.5,868.4 M787.5,864.3 802.5,863.4 787.5,862.6 M796.7,872.6 802.5,868.4 M814.2,867.6 818.4,870.1 825.9,868.4 830.9,879.3 M805,885.1 814.2,881.4 819.2,888.4 815,895.1 M819.2,888.4 823.4,889.3 823.4,892.6 827.5,893.4 829.2,888.4 M947.6,893.4 943.5,904.3 951,915.1 950.1,921.8 936.8,920.1 918.1,920.1 M918.1,925.1 926.8,924.3 927.6,920.1 M936.8,920.1 937.6,923.5 942.6,924.3 941,940.1 934.3,941 927.6,949.3 M951,915.1 955.1,912.6 963.5,912.6 968.5,905.9 978.5,909.3 1008.5,905.1 988.5,885.9 984.3,876.8 M963.5,912.6 959.3,931.8 951,940.1 949.3,949.3 943.5,953.5 934.3,955.1 932.6,960.2 M1008.5,905.1 1025.2,912.6 1041,911 1050.2,907.6 1043.5,896.8 1036,891.8 1041.9,886.8 1043.5,878.4 1052.7,865.1 1054.4,855.9 1056.9,843.4 1062.7,840.1 M1054.4,855.9 1070.2,860.9 1080.2,871.8 1086.9,873.4 M1025.2,912.6 1026.8,919.3 1021,931.8 1019.3,936.8 1016.8,944.3 1018.5,951.8 M1019.3,936.8 1030.2,936 M1041,911 1046.9,920.1 1042.7,928.5 1043.5,933.5 M1050.2,907.6 1066,913.5 1081,911 1090.1,907.6 M1076.9,916.8 1076,934.3 1080.2,938.5 M932.6,960.9 951.4,959.9 959.7,970.3 967,970.3 969.1,965.1 975.4,965.1 979.5,968.2 980.6,984.9 991,985.9 991,994.3 980.6,995.3 980.6,1013 985.8,1019.3 M928.9,1016.8 936.8,1015.1 978.5,1020.3 984.7,1021.8 988.5,1024.5 996.2,1019.7 1006.6,1019.3 1015,1011 1021.2,1008.5 M991,985.9 1019.1,996.4 1019.1,990.1 1013.9,985.9 1015,975.5 1022.3,971.8 1030.6,975.5 1038.9,978.6 1041,981.8 M1046.2,988 1066,987 1074,982.8 M1018.1,952.6 1019.1,963 1024.3,971.3 1030.6,975.5 M1043.1,935.9 1067.1,953.6 M1023.3,935.9 1030.6,935.9 M1030.6,942.2 1022.3,948.4 1018.1,952.6 1017,942.2 1021.2,931.7 1026.4,920.3 1025.4,913 M1017,942.2 1023.3,941.7 M1041,911.9 1046.2,920.3 1042.1,929.6 M1077.5,911.9 1076,931.7 1078.5,936.9 M1086.9,871.3 1089,880.7 1095.2,886.9 1110.9,890 M978.5,1020.3 975.4,1023.5 975.4,1036 970.6,1036 970.1,1075.6 958.7,1078.7 953.5,1075.6 M971.2,1055.8 975.4,1066.2 980.6,1066.2 987.9,1059.9 998.3,1058.9 1018.1,1042.6 1028.5,1044.3 1030.6,1061 1034.8,1061 M996.2,1019.7 1009.7,1036 1018.1,1042.6 M1021.2,1008.5 1033.7,1012.6 1035.8,1018.2 1034.8,1027.6 1028.5,1044.3 M1021.2,1008.5 1021.2,1005.7 1034.8,1001.6 1037.9,994.3 1035.8,985.9 1038.9,978.6 M1034.8,1001.6 1043.1,1001.6 1042.1,1008.9 1047.3,1015.1 1050.4,1005.7 1046.2,1001.6 M1025.4,1064.7 1029.6,1061.4 1031.6,1066.2 1028.1,1068.9 1025.4,1064.7 M1006.6,1082.9 1012.9,1077.2 1017.7,1082.9 1010.8,1088.5 1006.6,1082.9 M949.3,951.5 941,954.7 933.7,954.2 M932.6,959.9 935.7,954.7 931.6,953.6 M1100,656.7 1104.2,649.4 1112.5,648.4 1125,651.5 1130.2,648.4 1139.6,650.5 1156.3,652.5 1156.3,646.3 1147.9,644.2 1150,639 1145.9,632.7 1166.7,627.5 1180.3,624.4 1187.6,623.8 1192.8,628.6 1207.4,634.8 1215.7,629.6 1227.2,640 1231.3,639 1250.1,650.5 1255.3,653.6 1263.7,650.5 1269.9,658.8 1287.6,664 1294.9,660.9 1303.3,667.1 1329.3,655.7 1358.5,656.3 1360.6,649.4 1367.9,645.2 1385.6,656.7 1402.3,656.7 1419,664 1449.2,659.8 1468,652.5 1473.2,642.1 1488.8,636.9 1500.1,640 M1303.3,667.1 1310.6,666.7 1321,674.4 1325.2,688 1335.6,692.2 1348.1,696.3 1355.4,703 M1424.2,703 1430.4,692.2 1437.7,692.2 1452.3,682.8 1466.9,679.6 1460.7,672.3 1452.3,673.4 1449.2,659.8 M1303.3,667.1 1298.1,671.3 1296,677.6 1285.5,679.6 1282.4,689 1271,692.2 1274.1,702.6 1267.8,704.2 M1147.9,686.9 1157.3,681.7 M1171.9,692.2 1189.6,694.2 1195.9,708.8 1202.2,712 1210.5,710.9 1223,703.6 1235.5,699.5 1264.7,701.5 1271,704.2 M1147.9,686.9 1152.1,705.7 1160.5,700.5 1168.8,703.6 1171.9,709.9 1180.3,710.9 1185.5,715.1 1191.7,720.3 1203.2,728.6 1202.2,735.9 1208.4,735.9 1216.7,727.6 1225.1,730.1 1228.2,738 M1140.7,734.9 1155.2,730.1 1177.1,740.1 1184.4,748 1198,737 1202.2,735.9 M1223,703.6 1224,708.8 1237.6,713 1236.6,716.1 1213.6,719.3 1208.4,718.2 1209.5,728.6 1208.4,735.9 M1213.6,719.3 1215.7,721.8 1233.4,720.9 1245.9,719.7 1258.4,715.1 M1239.7,722.4 1238.6,728.6 1243.8,730.7 1243.8,735.9 1229.3,740.1 M1184.4,748 1175.1,751.6 1174,765.1 1180.3,775.5 1176.1,778.7 1183.4,780.8 1201.1,777.6 1204.2,769.3 1218.8,765.1 1220.9,756.8 1223,754.7 1226.1,748.4 1228.2,739.1 1243.8,735.9 1255.3,744.3 M1176.1,778.7 1186.5,792.2 1179.2,803.7 M1239.7,750.5 1255.3,750.5 M1239.7,750.5 1241.8,759.9 1247,763 1243.8,767.2 1243.8,771.4 1218.8,791.2 1225.1,806.8 1214.7,808.5 1220.9,816.2 M1100,758.9 1110.4,769.3 1111.5,776.6 1100,783.9 M1100,845.4 1114.6,838.1 1131.3,836 1150,825.6 1149,809.9 1144.8,807.9 1136.5,805.8 M1131.3,836 1135.4,847.5 M1144.8,807.9 1150,799.5 M1358.5,833.5 1360.6,846.4 1364.8,858.9 1368.9,869.4 1366.9,881.9 M1377.3,833.5 1381.4,838.1 1396,854.8 1397.1,858.9 1383.5,862.1 1384.6,869.4 M1390.8,833.5 1400.2,846.4 1408.5,858.9 1406.5,869.4 1396,875.6 M1339.7,833.5 1342.9,840.2 1341.8,848.5 M1050.2,740.1 1083.5,737.1 1095.2,735.9 M1095.2,735.9 1100.2,746.7 1098.5,755.1 1108.5,768.4 1111.9,775.1 1120.1,776.7 M1083.5,737.1 1077.7,743.4 1076.9,753.4 1065.2,759.2 1046.8,764.2 M1065.2,759.2 1066.9,765.1 1090.2,776.7 1098.5,784.3 1113.6,780.1 M1065.2,759.2 1055.2,768.4 1060.2,773.4 1051.8,780.9 1045.2,779.2 1044.3,784.3 M1046.8,758.4 1045.2,768.4 1042.7,784.3 M1096.3,660 1096.6,664.7 1098.8,668.8 1099.4,670.9 1104.4,669.4 1112.5,681.3 M1091.3,722.5 1091.9,726.3 1094.4,736.3 1098.1,741.9 1101.3,744.4 1100,750 M1080,738.2 1094.4,736.3 M1152.6,706 1147.5,708.5 1142.5,704.7 1135,706.6 M1093.8,736.3 1091.3,725.1 1093.8,721.9 1100.1,726.3 1107.6,724.4 1110.1,727.6 1115.7,729.4 M1065,695 1072.5,694.4 1083.8,701.3 1093.8,700 1096.3,702.5 1111.3,706.9 M1077.5,710.7 1085,710 1092.6,720.1 1091.3,725.1 M1091.9,708.2 1095.1,706.3 1100.1,705 1098.8,709.4 1096.3,710 1105.1,721.9 1100.1,723.8 1095.1,720.7 1092.6,720.1 M1128.8,807 1130.7,812.6 1147.6,814.5 1150.1,806.4 M1147.6,814.5 1146.3,820 M1102.6,781.3 1113.2,784.5 M973.5,517.5 955.1,526.7 943.4,540 939.3,551.7 940.1,556.7 932.6,561.7 931.8,576.7 933.4,580.9 931.8,586.7 924.3,593.4 M973.5,517.5 988.5,526.7 991,543.4 M973.5,517.5 975.1,515.9 993.5,520.9 1000.1,515.9 1002.6,510 1011.8,509.2 1015.1,511.7 1017.7,517.5 1013.5,520 1018.5,527.5 1016.8,535.9 1021.8,543.4 1020.2,551.7 1027.7,570.1 1013.5,585.9 M1010.9,592.5 1007.6,596.7 1004.7,599.2 1007.6,603.4 1006.7,606.7 1007.2,608.4 1004.2,611.7 1006.3,615.5 1004.7,622.1 1007.6,624.2 1015.5,624.6 1019.2,627.5 1022.2,634.2 1026.8,640.1 1020.9,641.3 1023.8,646.3 1031.8,643.4 1035.1,644.2 1037.6,649.2 1043.4,652.6 1049.3,659.2 1060,661.3 M991.7,603.4 995.9,602.9 1001.7,605.4 1006.7,605.4 M977.6,614.6 986.7,614.2 995.1,616.7 996.7,621.7 1004.7,622.1 M996.7,621.7 992.6,626.7 990.5,631.7 989.2,635.5 990.1,640.1 987.1,644.2 989.6,647.6 991.7,654.6 983.4,665.9 982.1,669.2 983.4,671.7 1004.2,670.5 M975.5,622.5 975.9,625.9 980.5,626.3 981.3,630.9 M969.2,629.2 981.3,630.9 988,632.6 989.2,635.5 M1023.8,646.3 1018.4,648.4 1016.7,652.6 995.9,647.1 989.6,647.6 M940.9,633.8 944.2,652.1 964.2,661.3 972.6,664.2 983.4,665.9 M944.2,652.1 940.9,652.1 930,657.2 938.8,667.2 954.6,667.2 964.2,661.3 M954.6,667.2 956.7,670.9 963.4,673.8 972.6,668.8 983.4,671.7 M911.7,626.7 919.6,626.7 M905.8,638.4 904.6,644.2 900,646.7 M938.8,667.2 935,675.1 908.8,674.2 910.8,666.7 900,661.3 M908.3,674.2 900,680 M935,675.1 919.2,676.3 917.9,678.4 M829.2,710 840,711.7 835.9,720 835,737.6 M863.4,700 886.7,705.9 M906.7,638.4 905.1,644.2 900.1,646.7 900.9,650.9 900.1,656.7 900.9,662.6 910.1,667.6 908.4,674.2 918.4,675.1 935.1,674.2 938.4,668.4 M890.1,649.2 900.9,651.4 M885.1,652.6 893.4,658.4 900.9,662.6 M908.4,674.2 900.9,680.9 906.7,684.3 914.2,682.6 918.4,685.1 922.6,680.1 918.4,676.7 918.7,675.1 M905.1,685.1 905.9,691.8 908.4,697.6 915.1,695.4 M922.6,680.1 930.1,678.7 938.4,681.8 939.3,687.6 948.4,686.8 950.9,679.2 940.1,680.9 938.4,681.8 M954.3,667.6 955.9,671.7 950.9,679.2 955.1,684.3 965.1,685.9 972.6,684.3 982.6,670.9 973.5,670.1 963.4,674.2 955.9,671.7 M982.6,665.9 982.6,670.9 1005.1,670.9 1013.5,670.4 1016.8,671.7 1020.2,678.4 1016,680.1 1018.5,685.1 1012.6,686.8 1011.8,680.1 1005.1,670.9 M972.6,684.3 975.1,690.1 984.3,695.9 1014.3,698.4 M984.3,695.9 983.5,710.1 985.1,713.4 1001.8,710.9 1006.8,717.6 M1001.8,710.9 1011,710.1 M966.8,718.4 971,706.8 975.1,715.1 973.5,726.8 M975.1,715.1 983.5,713.4 M965.1,685.9 967.6,695.1 966.8,701.8 964.3,706.8 M971,706.8 966.8,701.8 M948.4,687.6 957.6,703.4 M950.9,687.6 965.9,695.9 M1059.3,661.4 1065.2,662.6 1068.5,668.4 1063.5,672.6 1063.2,677.6 M514.3,684.7 524.1,676.4 532.5,677.4 534.5,691 521,699.3 M410.3,857.4 415.5,848 419.7,850.1 414.5,843.8 425.9,840.7 428,835.5 M425.9,840.7 427,850.1 M410.3,857.4 415.5,851.1 425.9,853.2 429.1,850.1 M425.9,853.2 422.8,862.6 M423.8,863 429.1,854.3 438.4,853.2 446.8,855.3 455.1,855.3 M442.6,876.2 453,876.2 M457.2,889.7 458.2,882.4 M371.7,791.7 378,796.9 385.3,798 M1373.4,899.2 1375.9,901.7 1381.8,900.1 M1419.3,923.4 1423.5,925.9 1439.3,924.7 1444.3,916.7 1448.5,909.7 1457.7,910.1 M1441.8,906.7 1443.5,910.1 1446,908.4 M1420,663.4 1443.3,658.4 1459.2,662.5 1465.9,659.2 1474.2,645.9 1470,641.7 1488.4,635.9 1498.4,640 1506.7,660 1522.6,665.9 1525.9,674.2 1544.3,669.2 1536.7,690.1 1525.1,693.4 1526.7,701.7 M1450,660 1448.4,673.4 1461.7,671.7 1467.5,680.1 1455,680.1 1430,691.7 1428.3,698.4 1420,702.6 M421.7,393.4 438.4,392.3 M422.7,396 448.8,394.9 M430,399.1 460.8,396.5 M453,404.8 493.6,398.6 M525.9,378.8 537.4,375.6 M524.4,390.8 536.4,391.3 M520.2,397.5 548.9,393.4 M509.3,408.5 517.6,408.5 M482.2,418.4 497.8,418.4 M481.6,421.5 495.7,422.5 M486.3,428.8 494.7,428.8 M460.8,440.3 475.9,440.3 M453,406.9 466.5,414.7 470.7,414.2 M442.5,422.5 463.4,421.5 M448.8,420.5 459.2,426.2 M444.6,433.5 459.7,431.4 448.8,438.7 M454,379.3 464.4,386.6 M435.2,385.5 444.6,387.1 M391.5,409 402.9,407.9 M390.9,411.6 402.4,414.2 M405,419.4 420.7,417.9 M413.4,451.7 424.8,450.7 M414.4,455.4 421.7,452.3 M441.5,481.4 450.9,483 M442.5,484 448.8,481.4"/>
<path fill="#f39c12" stroke="none" d="M1471.8,863.4 1476.8,864.2 1476,869.2Z M1479.3,870.9 1485.2,875 1481,878.4Z"/>
</g>
</svg>

<div class="box" id="gbox"><b>Global Internet Stats in 2009E</b><span>1.8B Users, +13% Y/Y<sup>(1)</sup>; 18.8T Minutes Spent, +21% Y/Y<sup>(2)</sup></span></div>

<div class="box cb" id="b-usa" style="left:185px;top:643.5px;width:329.3px;height:147px;border-radius:25px;"><b style="padding-top:12.8px">USA</b><span>238MM users</span><span>+4% Y/Y</span></div>
<div class="box cb" id="b-rus" style="left:1040px;top:490px;height:131.3px"><b>Russia</b><span>39MM users</span><span>+13% Y/Y</span></div>
<div class="box cb" id="b-chn" style="left:1255px;top:703.1px;width:329px;height:131.3px"><b>China</b><span>384MM users</span><span>+29% Y/Y<sup>(3)</sup></span></div>
<div class="box cb" id="b-bra" style="left:516px;top:951.9px;width:328.8px;height:131.3px"><b>Brazil</b><span>67MM users</span><span>+14% Y/Y</span></div>
<div class="box cb" id="b-ind" style="left:1109.3px;top:955.6px;width:329.3px;height:131px"><b>India</b><span>130MM users</span><span>+23% Y/Y</span></div>

<div id="logo">Morgan<span style="margin-left:8.5px;letter-spacing:-0.1px">Stanley</span></div>
<div id="src">Source: 1) Internet user stats are estimates by Morgan Stanley Research; 2) time spent data per comScore global<br>12/09; 3) China Internet uer stats per CNNIC, 1/10.</div>
<div id="pg">6</div>
</body>
</html>
